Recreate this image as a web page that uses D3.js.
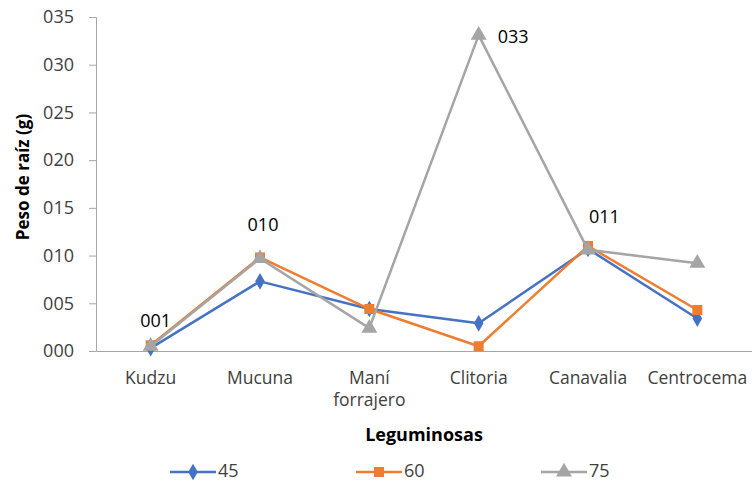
<!DOCTYPE html>
<html>
<head>
<meta charset="utf-8">
<script src="https://cdn.jsdelivr.net/npm/d3@7"></script>
<style>
  html, body { margin: 0; padding: 0; background: #fff; }
  svg { display: block; }
  text { font-family: "Open Sans", Lato, sans-serif; }
</style>
</head>
<body>
<svg id="chart" width="752" height="483"></svg>
<script>
// Leguminosas evaluated and root weight (g) at three ages (days)
const categories = ["Kudzu", "Mucuna", "Maní forrajero", "Clitoria", "Canavalia", "Centrocema"];
const seriesNames = ["45", "60", "75"];
const values45 = [0.003, 0.073, 0.044, 0.029, 0.107, 0.034];
const values60 = [0.006, 0.098, 0.044, 0.005, 0.110, 0.043];
const values75 = [0.005, 0.097, 0.024, 0.331, 0.106, 0.092];
const yTicks = [0, 0.05, 0.10, 0.15, 0.20, 0.25, 0.30, 0.35];
// data labels shown on the 75-day series (category index)
const labelled75 = [0, 1, 3, 4];

const colors = ["#4472C4", "#ED7D31", "#A5A5A5"];
const markers = [d3.symbolDiamond, d3.symbolSquare, d3.symbolTriangle];
const markerSizes = [80, 100, 110];
// label offsets relative to each labelled point
const labelOffsets = [[5, -24], [3, -32], [19, 3], [1, -32]];
const labelAnchors = ["middle", "middle", "start", "start"];

const series = [values45, values60, values75].map((vals, i) => ({
  name: seriesNames[i], values: vals, color: colors[i], marker: markers[i], size: markerSizes[i]
}));

const svg = d3.select("#chart");
const margin = { left: 96, right: 0, top: 17, bottom: 132 };
const W = 752, H = 483;
const plotBottom = H - margin.bottom; // 351

const x = d3.scaleBand().domain(categories).range([margin.left, W]).padding(0);
const y = d3.scaleLinear().domain([0, 0.35]).range([plotBottom, margin.top]);
const fmt = v => d3.format(".2f")(v).replace(".", "");

// Y axis
const yAxis = svg.append("g")
  .attr("transform", `translate(${margin.left},0)`)
  .call(d3.axisLeft(y).tickValues(yTicks).tickFormat(fmt).tickSize(7).tickPadding(15));
yAxis.select(".domain").attr("stroke", "#A6A6A6");
yAxis.selectAll(".tick line").attr("stroke", "#A6A6A6");
yAxis.selectAll(".tick text").attr("fill", "#404040").attr("font-size", 18)
  .style("font-family", "'Open Sans', sans-serif");

// X axis
const xAxis = svg.append("g")
  .attr("transform", `translate(0,${plotBottom})`)
  .call(d3.axisBottom(x).tickSize(0).tickPadding(0));
xAxis.select(".domain").attr("stroke", "#A6A6A6");
xAxis.selectAll(".tick text").remove();
xAxis.selectAll(".tick").each(function(d) {
  const words = d.split(" ");
  const t = d3.select(this).append("text")
    .attr("fill", "#404040").attr("font-size", 17.5).attr("text-anchor", "middle")
    .style("font-family", "'Open Sans', sans-serif");
  words.forEach((w, i) => {
    t.append("tspan").attr("x", 0).attr("y", 33 + i * 22).text(w);
  });
});

// Axis titles
svg.append("text")
  .attr("transform", `translate(29,177) rotate(-90)`)
  .attr("text-anchor", "middle").attr("font-size", 17).attr("font-weight", "bold")
  .attr("fill", "#000").text("Peso de raíz (g)");
svg.append("text")
  .attr("x", (margin.left + W) / 2).attr("y", 441)
  .attr("text-anchor", "middle").attr("font-size", 18).attr("font-weight", "bold")
  .attr("fill", "#000").text("Leguminosas");

// Lines and markers
const line = d3.line()
  .x((d, i) => x(categories[i]) + x.bandwidth() / 2)
  .y(d => y(d));

series.forEach(s => {
  const g = svg.append("g");
  g.append("path").datum(s.values)
    .attr("d", line).attr("fill", "none")
    .attr("stroke", s.color).attr("stroke-width", 2.5).attr("stroke-linejoin", "round");
  g.selectAll("path.m").data(s.values).join("path")
    .attr("class", "m")
    .attr("d", d3.symbol().type(s.marker).size(s.size))
    .attr("transform", (d, i) => `translate(${x(categories[i]) + x.bandwidth() / 2},${y(d)})`)
    .attr("fill", s.color);
});

// Data labels on the 75-day series
svg.append("g").selectAll("text").data(labelled75).join("text")
  .attr("x", (d, i) => x(categories[d]) + x.bandwidth() / 2 + labelOffsets[i][0])
  .attr("y", (d, i) => y(values75[d]) + labelOffsets[i][1])
  .attr("text-anchor", (d, i) => labelAnchors[i])
  .attr("dominant-baseline", "middle")
  .attr("font-size", 18).attr("fill", "#000")
  .text(d => fmt(values75[d]));

// Legend
const legendX = [170, 356, 541];
const legend = svg.append("g").selectAll("g").data(series).join("g")
  .attr("transform", (d, i) => `translate(${legendX[i]},472)`);
legend.append("line").attr("x1", 0).attr("x2", 46)
  .attr("stroke", d => d.color).attr("stroke-width", 2.5);
legend.append("path")
  .attr("d", d => d3.symbol().type(d.marker).size(d.size)())
  .attr("transform", "translate(23,0)").attr("fill", d => d.color);
legend.append("text").attr("x", 48).attr("y", 0).attr("dominant-baseline", "middle")
  .attr("font-size", 18).attr("fill", "#404040").text(d => d.name);
</script>
</body>
</html>
